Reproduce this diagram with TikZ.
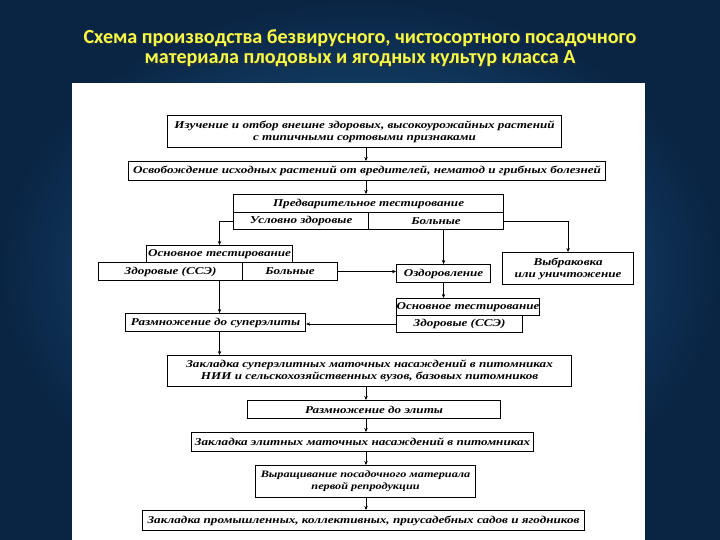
\documentclass[tikz,border=0pt]{standalone}
\usepackage{fontspec}
\setmainfont{Liberation Serif}[FakeStretch=1.25]
\newfontfamily\titlefont{Carlito}
\usetikzlibrary{arrows.meta,calc}
\definecolor{bginner}{RGB}{30,104,152}
\definecolor{bgouter}{RGB}{10,36,68}
\definecolor{titleyellow}{RGB}{246,250,72}
\tikzset{
  box/.style={draw=black, line width=1.1pt, fill=white, anchor=north west, inner sep=0pt,
    font=\fontsize{10.5}{12}\selectfont\bfseries\itshape, align=center, text=black},
  arr/.style={draw=black, line width=0.8pt, -{Stealth[length=4pt,width=3.5pt]}},
  ttl/.style={font=\titlefont\bfseries\fontsize{20.1}{23}\selectfont, text=titleyellow},
  ttlshadow/.style={font=\titlefont\bfseries\fontsize{20.1}{23}\selectfont, text=black!80, opacity=0.7}
}
\newcommand{\bx}[6]{% name, x1, y1, x2, y2, text
  \node[box, minimum width={(#4-#2)*1pt}, minimum height={(#5-#3)*1pt}] (#1) at (#2,#3) {#6};}
\begin{document}
\begin{tikzpicture}[x=1pt,y=-1pt]
\useasboundingbox (0,0) rectangle (720,540);
\shade[inner color=bginner, outer color=bgouter] (0,0) rectangle (720,540);
\fill[white] (72,83) rectangle (645,540);
\node[ttlshadow] (t1s) at (361.2,39.2) {Схема производства безвирусного, чистосортного посадочного};
\node[ttlshadow] (t2s) at (361.2,60.2) {материала плодовых и ягодных культур класса А};
\node[ttl] (t1) at (360,38) {Схема производства безвирусного, чистосортного посадочного};
\node[ttl] (t2) at (360,59) {материала плодовых и ягодных культур класса А};
\coordinate (spine) at (366,0);
% boxes
\bx{b1}{167}{115}{561}{147}{Изучение и отбор внешне здоровых, высокоурожайных растений\\с типичными сортовыми признаками}
\bx{b2}{128}{161}{605}{180}{Освобождение исходных растений от вредителей, нематод и грибных болезней}
\bx{pt}{233}{194}{503}{212}{Предварительное тестирование}
\bx{ptl}{233}{212}{368}{229}{Условно здоровые}
\bx{ptr}{368}{212}{503}{229}{Больные}
\bx{bt}{146}{245}{292}{262}{Основное тестирование}
\bx{bbl}{98}{262}{242}{280}{Здоровые (ССЭ)}
\bx{bbr}{242}{262}{337}{280}{Больные}
\bx{ozd}{396}{264}{490}{282}{Оздоровление}
\bx{vyb}{502}{252}{633}{284}{Выбраковка\\или уничтожение}
\bx{mt}{396}{298}{522}{315}{Основное тестирование}
\bx{mb}{396}{315}{522}{332}{Здоровые (ССЭ)}
\bx{raz}{125}{313}{305}{331}{Размножение до суперэлиты}
\bx{s9}{167}{355}{571}{386}{Закладка суперэлитных маточных насаждений в питомниках\\НИИ и сельскохозяйственных вузов, базовых питомников}
\bx{s10}{247}{400}{500}{418}{Размножение до элиты}
\bx{s11}{191}{432}{533}{451}{Закладка элитных маточных насаждений в питомниках}
\bx{s12}{255}{465}{475}{497}{\fontsize{9.8}{12}\selectfont Выращивание посадочного материала\\\fontsize{9.8}{12}\selectfont первой репродукции}
\bx{s13}{142}{510}{584}{530}{Закладка промышленных, коллективных, приусадебных садов и ягодников}
% connectors
\draw[arr] (spine |- b1.south) -- (spine |- b2.north);
\draw[arr] (spine |- b2.south) -- (spine |- pt.north);
\draw[arr] (ptl.west) -| (bt.north);
\draw[arr] (ptr.east) -| (vyb.north);
\draw[arr] (ozd.north |- ptr.south) -- (ozd.north);
\draw[arr] (bbr.east) -- (bbr.east -| ozd.west);
\draw[arr] (ozd.south) -- (ozd.south |- mt.north);
\draw[arr] (mb.west) -- (mb.west -| raz.east);
\draw[arr] (bt |- bbl.south) -- (bt |- raz.north);
\draw[arr] (bt |- raz.south) -- (bt |- s9.north);
\draw[arr] (spine |- s9.south) -- (spine |- s10.north);
\draw[arr] (spine |- s10.south) -- (spine |- s11.north);
\draw[arr] (spine |- s11.south) -- (spine |- s12.north);
\draw[arr] (spine |- s12.south) -- (spine |- s13.north);
\end{tikzpicture}
\end{document}
